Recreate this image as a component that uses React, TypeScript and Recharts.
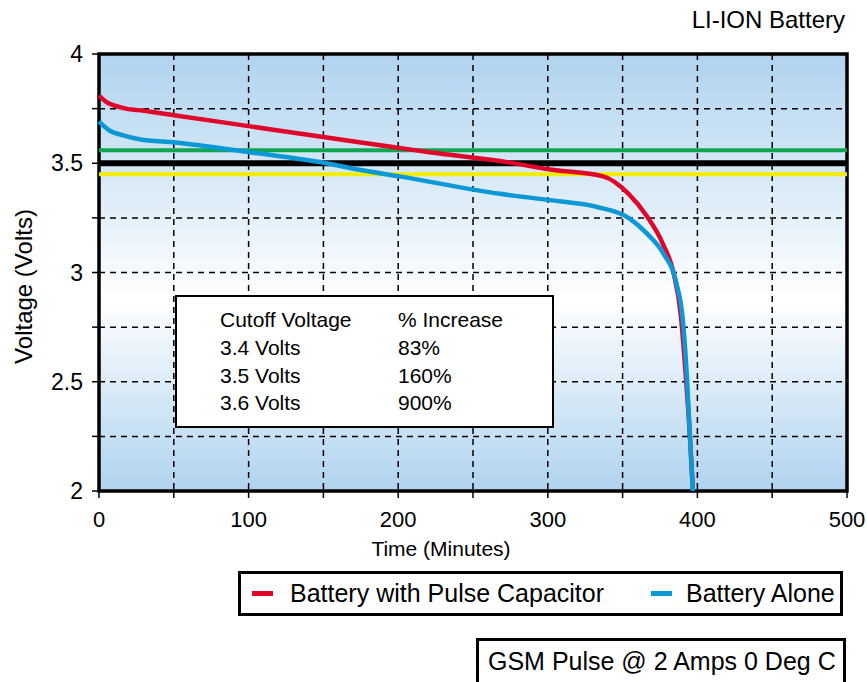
import { LineChart, Line, XAxis, YAxis, CartesianGrid, ReferenceLine, ReferenceArea, Legend } from "recharts";

const FONT = '"Liberation Sans", Arial, Helvetica, sans-serif';

// axis ticks
const timeTicks = [0, 50, 100, 150, 200, 250, 300, 350, 400, 450, 500];
const voltTicks = [2, 2.25, 2.5, 2.75, 3, 3.25, 3.5, 3.75, 4];

// battery with pulse capacitor
const capTime = [0, 5, 10, 18, 30, 50, 100, 150, 201, 221, 268, 303, 337, 354, 366, 377, 384, 389, 392, 395, 397];
const capVolts = [3.81, 3.78, 3.765, 3.75, 3.74, 3.72, 3.67, 3.62, 3.57, 3.55, 3.51, 3.47, 3.44, 3.36, 3.26, 3.13, 3.0, 2.8, 2.55, 2.25, 2.0];

// battery alone
const aloneTime = [0, 7, 15, 27, 51, 101, 152, 174, 201, 268, 303, 333, 354, 366, 377, 386, 390, 393, 395, 397];
const aloneVolts = [3.69, 3.65, 3.63, 3.61, 3.595, 3.55, 3.5, 3.47, 3.44, 3.36, 3.33, 3.3, 3.25, 3.18, 3.09, 2.95, 2.8, 2.52, 2.25, 2.0];

// cutoff levels drawn across the plot
const cutoffHigh = 3.56;
const cutoffMid = 3.5;
const cutoffLow = 3.45;

// inset table
const tableHead = ["Cutoff Voltage", "% Increase"];
const tableCutoffs = ["3.4 Volts", "3.5 Volts", "3.6 Volts"];
const tableIncrease = ["83%", "160%", "900%"];

const seriesNames = ["Battery with Pulse Capacitor", "Battery Alone"];

const capData = capTime.map((t, i) => ({ t, v: capVolts[i] }));
const aloneData = aloneTime.map((t, i) => ({ t, v: aloneVolts[i] }));

const RED = "#e0062a";
const BLUE = "#0c98d6";

const renderLegend = (props: any) => {
  const items = [...(props.payload || [])].sort(
    (a: any, b: any) => seriesNames.indexOf(a.value) - seriesNames.indexOf(b.value)
  );
  const swatchLefts = [11, 410];
  return (
    <div
      style={{
        boxSizing: "border-box",
        width: 605,
        height: 45,
        border: "3px solid #000",
        background: "#fff",
        position: "relative",
        fontFamily: FONT,
        fontSize: 25,
        color: "#000",
      }}
    >
      {items.map((it: any, i: number) => (
        <div key={it.value} style={{ position: "absolute", left: swatchLefts[i], top: 0, height: 39, display: "flex", alignItems: "center" }}>
          <span style={{ display: "inline-block", width: 21, height: 5, background: it.color }} />
          <span style={{ marginLeft: i === 0 ? 17 : 14, whiteSpace: "nowrap" }}>{it.value}</span>
        </div>
      ))}
    </div>
  );
};

export default function App() {
  const rows = [tableHead, ...tableCutoffs.map((c, i) => [c, tableIncrease[i]])];

  return (
    <div style={{ position: "absolute", left: 0, top: 0, width: 867, height: 682, background: "#fff", fontFamily: FONT, overflow: "hidden" }}>
      <div style={{ position: "absolute", right: 22, top: 5, fontSize: 24, lineHeight: "30px", color: "#000" }}>LI-ION Battery</div>

      <LineChart width={867} height={682} margin={{ top: 54, right: 20, bottom: 124, left: 0 }} style={{ fontFamily: FONT }}>
        <defs>
          <linearGradient id="plotBg" x1="0" y1="0" x2="0" y2="1">
            <stop offset="0%" stopColor="#b0d3ef" />
            <stop offset="56%" stopColor="#ffffff" />
            <stop offset="100%" stopColor="#b0d3ef" />
          </linearGradient>
        </defs>
        <CartesianGrid fill="url(#plotBg)" fillOpacity={1} stroke="#000" strokeWidth={1.5} strokeDasharray="6 5" />
        <XAxis
          type="number"
          dataKey="t"
          domain={[0, 500]}
          ticks={timeTicks}
          interval={0}
          tickFormatter={(v: number) => (v % 100 === 0 ? String(v) : "")}
          axisLine={false}
          tickLine={{ stroke: "#000", strokeWidth: 1.5 }}
          tickSize={7}
          tickMargin={13}
          height={67}
          tick={{ fill: "#000", fontSize: 22 }}
          label={{ value: "Time (Minutes)", position: "insideBottom", offset: 2, dx: -32, fontSize: 21, fill: "#000" }}
        />
        <YAxis
          type="number"
          domain={[2, 4]}
          ticks={voltTicks}
          interval={0}
          tickFormatter={(v: number) => (v % 0.5 === 0 ? String(v) : "")}
          axisLine={false}
          tickLine={{ stroke: "#000", strokeWidth: 1.5 }}
          tickSize={7}
          tickMargin={9}
          width={99}
          tick={{ fill: "#000", fontSize: 23 }}
          label={{ value: "Voltage (Volts)", angle: -90, position: "center", dx: -26, dy: 14, fontSize: 24, fill: "#000" }}
        />
        <ReferenceLine y={cutoffHigh} stroke="#10a650" strokeWidth={4} />
        <ReferenceLine y={cutoffMid} stroke="#000" strokeWidth={6} />
        <ReferenceLine y={cutoffLow} stroke="#f4ec00" strokeWidth={4} />
        <Line
          data={capData}
          dataKey="v"
          name={seriesNames[0]}
          type="monotone"
          stroke={RED}
          strokeWidth={4.5}
          dot={false}
          isAnimationActive={false}
        />
        <Line
          data={aloneData}
          dataKey="v"
          name={seriesNames[1]}
          type="monotone"
          stroke={BLUE}
          strokeWidth={4.5}
          dot={false}
          isAnimationActive={false}
        />
        <ReferenceArea x1={0} x2={500} y1={2} y2={4} fill="none" stroke="#000" strokeWidth={3.5} />
        <Legend
          layout="horizontal"
          verticalAlign="middle"
          align="center"
          content={renderLegend}
          wrapperStyle={{ position: "absolute", left: 238, top: 571, width: 605, height: 45 }}
        />
      </LineChart>

      {/* inset table */}
      <div
        style={{
          position: "absolute",
          left: 175,
          top: 295,
          width: 379,
          height: 133,
          boxSizing: "border-box",
          border: "2px solid #000",
          background: "#fff",
          fontSize: 21,
          color: "#000",
        }}
      >
        {rows.map((r, i) => (
          <div key={i} style={{ position: "absolute", top: 9 + i * 27.8, left: 43, lineHeight: "28px", whiteSpace: "nowrap" }}>
            <span style={{ display: "inline-block", width: 178 }}>{r[0]}</span>
            <span>{r[1]}</span>
          </div>
        ))}
      </div>

      <div
        style={{
          position: "absolute",
          left: 476,
          top: 638,
          width: 370,
          height: 50,
          boxSizing: "border-box",
          border: "3px solid #000",
          background: "#fff",
          fontSize: 25,
          lineHeight: "40px",
          paddingLeft: 9,
          color: "#000",
          whiteSpace: "nowrap",
        }}
      >
        GSM Pulse @ 2 Amps 0 Deg C
      </div>
    </div>
  );
}
